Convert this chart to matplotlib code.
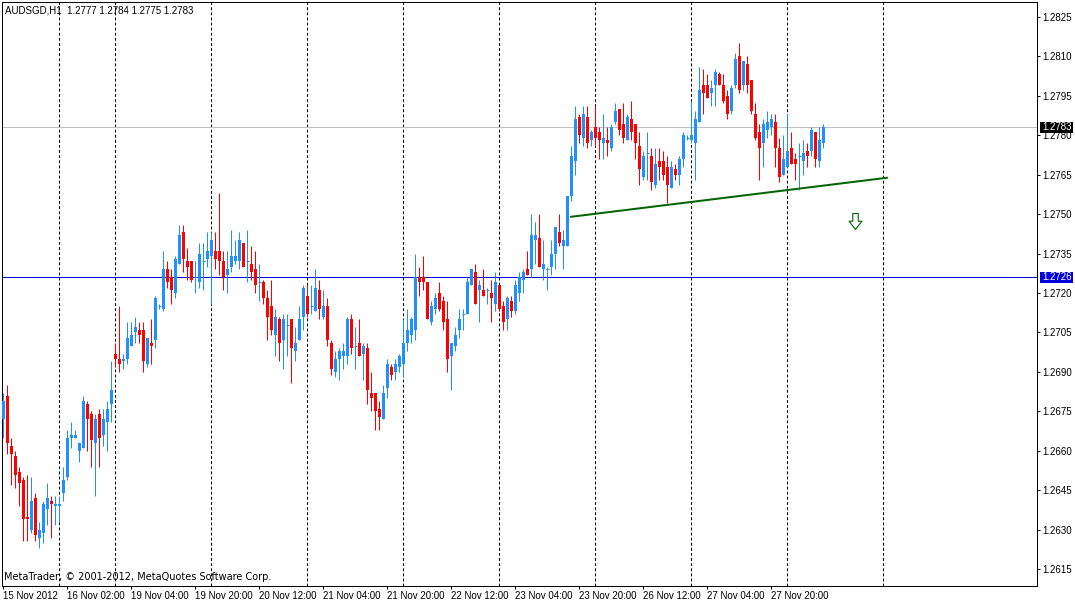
import matplotlib
matplotlib.use("Agg")
import matplotlib.pyplot as plt
from matplotlib.path import Path
from matplotlib.patches import Rectangle
import numpy as np

# AUDSGD H1 bars (bar 0 = 15 Nov 2012 10:00)
opens = [1.2672, 1.2681, 1.2662, 1.2658, 1.2652, 1.2649, 1.2635, 1.2630, 1.2642, 1.2627,
         1.2629, 1.2638, 1.2641, 1.2639, 1.2639, 1.2644, 1.2650, 1.2665, 1.2665, 1.2660,
         1.2661, 1.2678, 1.2674, 1.2663, 1.2674, 1.2666, 1.2671, 1.2678, 1.2697, 1.2695,
         1.2694, 1.2695, 1.2700, 1.2705, 1.2706, 1.2706, 1.2693, 1.2701, 1.2702, 1.2715,
         1.2714, 1.2729, 1.2726, 1.2720, 1.2731, 1.2743, 1.2732, 1.2732, 1.2726, 1.2724,
         1.2732, 1.2733, 1.2734, 1.2736, 1.2736, 1.2732, 1.2727, 1.2730, 1.2732, 1.2732,
         1.2739, 1.2732, 1.2731, 1.2729, 1.2724, 1.2724, 1.2718, 1.2715, 1.2704, 1.2710,
         1.2702, 1.2708, 1.2710, 1.2698, 1.2702, 1.2711, 1.2719, 1.2715, 1.2713, 1.2721,
         1.2711, 1.2715, 1.2701, 1.2690, 1.2695, 1.2696, 1.2696, 1.2710, 1.2700, 1.2701,
         1.2697, 1.2699, 1.2682, 1.2682, 1.2676, 1.2672, 1.2684, 1.2692, 1.2690, 1.2692,
         1.2693, 1.2701, 1.2704, 1.2706, 1.2726, 1.2726, 1.2724, 1.2709, 1.2714, 1.2720,
         1.2717, 1.2710, 1.2696, 1.2700, 1.2706, 1.2712, 1.2712, 1.2723, 1.2728, 1.2721,
         1.2721, 1.2721, 1.2720, 1.2716, 1.2723, 1.2715, 1.2710, 1.2717, 1.2713, 1.2720,
         1.2725, 1.2729, 1.2729, 1.2740, 1.2741, 1.2729, 1.2729, 1.2730, 1.2735, 1.2743,
         1.2738, 1.2738, 1.2757, 1.2770, 1.2787, 1.2779, 1.2787, 1.2778, 1.2783, 1.2781,
         1.2777, 1.2778, 1.2775, 1.2785, 1.2790, 1.2784, 1.2778, 1.2786, 1.2784, 1.2776,
         1.2764, 1.2773, 1.2772, 1.2761, 1.2770, 1.2770, 1.2768, 1.2760, 1.2767, 1.2765,
         1.2771, 1.2779, 1.2778, 1.2777, 1.2785, 1.2799, 1.2799, 1.2796, 1.2799, 1.2803,
         1.2799, 1.2795, 1.2789, 1.2799, 1.2810, 1.2799, 1.2807, 1.2801, 1.2788, 1.2781,
         1.2777, 1.2782, 1.2783, 1.2785, 1.2775, 1.2765, 1.2768, 1.2775, 1.2771, 1.2772,
         1.2770, 1.2774, 1.2774, 1.2781, 1.2770, 1.2777]
highs = [1.2682, 1.2685, 1.2665, 1.2660, 1.2654, 1.2650, 1.2651, 1.2650, 1.2644, 1.2633,
         1.2641, 1.2648, 1.2643, 1.2643, 1.2643, 1.2654, 1.2668, 1.2671, 1.2668, 1.2663,
         1.2681, 1.2679, 1.2675, 1.2674, 1.2676, 1.2676, 1.2679, 1.2694, 1.2701, 1.2715,
         1.2697, 1.2709, 1.2709, 1.2711, 1.2709, 1.2709, 1.2703, 1.2710, 1.2719, 1.2716,
         1.2736, 1.2732, 1.2729, 1.2734, 1.2746, 1.2746, 1.2737, 1.2732, 1.2732, 1.2739,
         1.2739, 1.2743, 1.2743, 1.2743, 1.2758, 1.2736, 1.2736, 1.2744, 1.2740, 1.2743,
         1.2739, 1.2744, 1.2738, 1.2736, 1.2731, 1.2725, 1.2721, 1.2725, 1.2714, 1.2711,
         1.2712, 1.2712, 1.2710, 1.2707, 1.2715, 1.2723, 1.2723, 1.2723, 1.2729, 1.2725,
         1.2721, 1.2718, 1.2702, 1.2698, 1.2699, 1.2701, 1.2711, 1.2712, 1.2707, 1.2710,
         1.2701, 1.2701, 1.2690, 1.2682, 1.2679, 1.2685, 1.2695, 1.2693, 1.2695, 1.2697,
         1.2710, 1.2714, 1.2711, 1.2735, 1.2730, 1.2734, 1.2724, 1.2717, 1.2720, 1.2724,
         1.2719, 1.2717, 1.2701, 1.2707, 1.2714, 1.2714, 1.2726, 1.2729, 1.2731, 1.2725,
         1.2729, 1.2722, 1.2725, 1.2728, 1.2723, 1.2717, 1.2719, 1.2719, 1.2725, 1.2728,
         1.2729, 1.2736, 1.2750, 1.2747, 1.2750, 1.2740, 1.2730, 1.2740, 1.2745, 1.2750,
         1.2744, 1.2757, 1.2776, 1.2791, 1.2788, 1.2791, 1.2791, 1.2782, 1.2791, 1.2783,
         1.2788, 1.2783, 1.2784, 1.2792, 1.2790, 1.2792, 1.2788, 1.2793, 1.2784, 1.2781,
         1.2774, 1.2781, 1.2775, 1.2775, 1.2775, 1.2774, 1.2772, 1.2770, 1.2769, 1.2772,
         1.2781, 1.2780, 1.2793, 1.2789, 1.2806, 1.2805, 1.2803, 1.2801, 1.2805, 1.2804,
         1.2803, 1.2797, 1.2799, 1.2811, 1.2815, 1.2808, 1.2810, 1.2801, 1.2792, 1.2784,
         1.2786, 1.2789, 1.2788, 1.2788, 1.2779, 1.2780, 1.2788, 1.2781, 1.2773, 1.2777,
         1.2778, 1.2777, 1.2783, 1.2781, 1.2783, 1.2784]
lows = [1.2665, 1.2659, 1.2647, 1.2646, 1.2639, 1.2626, 1.2626, 1.2629, 1.2626, 1.2623,
        1.2625, 1.2632, 1.2627, 1.2632, 1.2633, 1.2641, 1.2649, 1.2661, 1.2665, 1.2656,
        1.2661, 1.2660, 1.2654, 1.2643, 1.2654, 1.2662, 1.2660, 1.2671, 1.2692, 1.2690,
        1.2691, 1.2693, 1.2700, 1.2701, 1.2701, 1.2690, 1.2692, 1.2693, 1.2699, 1.2714,
        1.2713, 1.2722, 1.2716, 1.2718, 1.2731, 1.2728, 1.2725, 1.2724, 1.2720, 1.2722,
        1.2721, 1.2730, 1.2716, 1.2729, 1.2727, 1.2721, 1.2720, 1.2728, 1.2731, 1.2729,
        1.2730, 1.2724, 1.2725, 1.2720, 1.2717, 1.2716, 1.2702, 1.2704, 1.2696, 1.2694,
        1.2691, 1.2696, 1.2686, 1.2694, 1.2702, 1.2706, 1.2711, 1.2712, 1.2713, 1.2710,
        1.2710, 1.2700, 1.2689, 1.2688, 1.2687, 1.2691, 1.2693, 1.2697, 1.2691, 1.2696,
        1.2687, 1.2678, 1.2675, 1.2668, 1.2668, 1.2672, 1.2680, 1.2687, 1.2687, 1.2690,
        1.2688, 1.2698, 1.2701, 1.2702, 1.2719, 1.2721, 1.2710, 1.2708, 1.2712, 1.2713,
        1.2706, 1.2690, 1.2683, 1.2698, 1.2703, 1.2706, 1.2712, 1.2723, 1.2716, 1.2709,
        1.2719, 1.2716, 1.2709, 1.2713, 1.2713, 1.2706, 1.2706, 1.2711, 1.2712, 1.2717,
        1.2720, 1.2727, 1.2726, 1.2731, 1.2730, 1.2725, 1.2721, 1.2727, 1.2729, 1.2738,
        1.2729, 1.2738, 1.2755, 1.2765, 1.2777, 1.2776, 1.2775, 1.2776, 1.2776, 1.2771,
        1.2771, 1.2772, 1.2774, 1.2784, 1.2780, 1.2777, 1.2778, 1.2778, 1.2771, 1.2761,
        1.2763, 1.2763, 1.2759, 1.2760, 1.2763, 1.2763, 1.2754, 1.2760, 1.2763, 1.2761,
        1.2768, 1.2778, 1.2777, 1.2763, 1.2785, 1.2788, 1.2794, 1.2791, 1.2791, 1.2799,
        1.2792, 1.2786, 1.2788, 1.2798, 1.2796, 1.2797, 1.2796, 1.2788, 1.2778, 1.2763,
        1.2768, 1.2779, 1.2780, 1.2768, 1.2762, 1.2765, 1.2768, 1.2769, 1.2763, 1.2759,
        1.2765, 1.2768, 1.2772, 1.2768, 1.2768, 1.2775]
closes = [1.2679, 1.2663, 1.2659, 1.2651, 1.2648, 1.2634, 1.2634, 1.2641, 1.2628, 1.2630,
          1.2640, 1.2642, 1.2640, 1.2640, 1.2640, 1.2649, 1.2665, 1.2666, 1.2666, 1.2663,
          1.2679, 1.2672, 1.2664, 1.2672, 1.2665, 1.2672, 1.2676, 1.2683, 1.2695, 1.2693,
          1.2695, 1.2703, 1.2704, 1.2707, 1.2704, 1.2694, 1.2703, 1.2700, 1.2718, 1.2715,
          1.2729, 1.2724, 1.2721, 1.2733, 1.2742, 1.2733, 1.2730, 1.2725, 1.2726, 1.2735,
          1.2732, 1.2736, 1.2740, 1.2733, 1.2732, 1.2726, 1.2729, 1.2734, 1.2734, 1.2740,
          1.2730, 1.2732, 1.2728, 1.2723, 1.2724, 1.2718, 1.2711, 1.2706, 1.2711, 1.2701,
          1.2710, 1.2708, 1.2699, 1.2701, 1.2710, 1.2722, 1.2712, 1.2715, 1.2722, 1.2714,
          1.2715, 1.2702, 1.2691, 1.2695, 1.2698, 1.2698, 1.2710, 1.2699, 1.2700, 1.2696,
          1.2700, 1.2683, 1.2680, 1.2675, 1.2673, 1.2682, 1.2693, 1.2689, 1.2693, 1.2696,
          1.2701, 1.2706, 1.2710, 1.2726, 1.2724, 1.2724, 1.2710, 1.2715, 1.2718, 1.2714,
          1.2709, 1.2695, 1.2701, 1.2704, 1.2710, 1.2712, 1.2724, 1.2729, 1.2716, 1.2723,
          1.2719, 1.2721, 1.2718, 1.2724, 1.2714, 1.2709, 1.2718, 1.2713, 1.2723, 1.2726,
          1.2728, 1.2727, 1.2742, 1.2742, 1.2730, 1.2731, 1.2729, 1.2735, 1.2745, 1.2739,
          1.2740, 1.2757, 1.2772, 1.2786, 1.2780, 1.2788, 1.2777, 1.2781, 1.2779, 1.2778,
          1.2779, 1.2777, 1.2783, 1.2789, 1.2782, 1.2779, 1.2787, 1.2781, 1.2777, 1.2767,
          1.2772, 1.2773, 1.2762, 1.2769, 1.2768, 1.2765, 1.2761, 1.2768, 1.2765, 1.2771,
          1.2780, 1.2779, 1.2780, 1.2786, 1.2797, 1.2796, 1.2794, 1.2798, 1.2804, 1.2799,
          1.2793, 1.2788, 1.2798, 1.2809, 1.2797, 1.2808, 1.2799, 1.2789, 1.2779, 1.2775,
          1.2784, 1.2785, 1.2786, 1.2775, 1.2764, 1.2771, 1.2774, 1.2769, 1.2769, 1.2772,
          1.2773, 1.2772, 1.2782, 1.2771, 1.2778, 1.2783]

day_starts = [14, 28, 52, 76, 100, 124, 148, 172, 196, 220]
time_ticks = [0, 16, 32, 48, 64, 80, 96, 112, 128, 144, 160, 176, 192]
time_labels = ["15 Nov 2012", "16 Nov 02:00", "19 Nov 04:00", "19 Nov 20:00",
               "20 Nov 12:00", "21 Nov 04:00", "21 Nov 20:00", "22 Nov 12:00",
               "23 Nov 04:00", "23 Nov 20:00", "26 Nov 12:00", "27 Nov 04:00",
               "27 Nov 20:00"]
price_ticks = [1.2825, 1.2810, 1.2795, 1.2780, 1.2765, 1.2750, 1.2735, 1.2720,
               1.2705, 1.2690, 1.2675, 1.2660, 1.2645, 1.2630, 1.2615]

bid = 1.2783
hline_price = 1.2726
trend_x = [141.7, 221.1]
trend_y = [1.27489, 1.27638]
arrow_bar = 212.8
arrow_price = 1.27473

BULL = "#1e90ff"
BEAR = "#ff0000"
HBLUE = "#0000dc"
GREEN = "#006400"
px = 0.72  # one pixel in points at 100 dpi

plt.rcParams["font.family"] = ["Liberation Sans", "DejaVu Sans"]
fig = plt.figure(figsize=(10.75, 6.02), dpi=100)
ax = fig.add_axes([2 / 1075, 16 / 602, 1035 / 1075, 584 / 602])

o = np.array(opens)
h = np.array(highs)
l = np.array(lows)
c = np.array(closes)
x = np.arange(len(o))
cols = np.where(c >= o, BULL, BEAR)

# day separators
for d in day_starts:
    ax.axvline(d, color="black", lw=px, linestyle=(0, (2.9, 2.2)), zorder=1)

ax.axhline(bid, color="#c0c0c0", lw=px, zorder=1.5)
ax.axhline(hline_price, color=HBLUE, lw=px, zorder=1.5)

ax.vlines(x, l, h, colors=cols, lw=px, zorder=2)
body = np.abs(c - o)
ax.bar(x, body, bottom=np.minimum(o, c), width=0.75, color=cols, linewidth=0, zorder=3)
doji = body < 0.00005
ax.hlines(o[doji], x[doji] - 0.375, x[doji] + 0.375, colors=cols[doji], lw=px, zorder=3)

ax.plot(trend_x, trend_y, color=GREEN, lw=2 * px, zorder=4, solid_capstyle="butt")

arrow = Path([(-0.17, 0.5), (0.17, 0.5), (0.17, 0.02), (0.4, 0.02), (0, -0.5),
              (-0.4, 0.02), (-0.17, 0.02), (-0.17, 0.5)],
             [Path.MOVETO] + [Path.LINETO] * 6 + [Path.CLOSEPOLY])
ax.plot([arrow_bar], [arrow_price], marker=arrow, markersize=11.5,
        markerfacecolor="white", markeredgecolor=GREEN, markeredgewidth=0.8,
        linestyle="none", zorder=5)

ax.set_xlim(-0.325, 258.4)
ax.set_ylim(1.260873, 1.283051)

ax.yaxis.tick_right()
ax.set_yticks(price_ticks)
ax.set_yticklabels(["%.4f" % p for p in price_ticks])
ax.set_xticks(time_ticks)
ax.set_xticklabels(time_labels, ha="left")
ax.tick_params(axis="both", direction="out", length=3 * px, width=px,
               labelsize=7, color="black", pad=1.5)
for s in ax.spines.values():
    s.set_linewidth(px)

# price labels on the scale
tr = ax.get_yaxis_transform()
for price, face in [(bid, "black"), (hline_price, HBLUE)]:
    ax.add_patch(Rectangle((1.0029, price - 0.00021), 0.0319, 0.00042, transform=tr,
                           facecolor=face, edgecolor="none", clip_on=False, zorder=6))
    ax.text(1.0048, price, "%.4f" % price, transform=tr, color="white", fontsize=7,
            va="center", ha="left", zorder=7, clip_on=False)

ax.text(0.003, 0.985, "AUDSGD,H1  %.4f %.4f %.4f %.4f" % (o[-1], h[-1], l[-1], c[-1]),
        transform=ax.transAxes, fontsize=7, va="center", ha="left")
ax.text(0.002, 0.0155, "MetaTrader, \u00a9 2001-2012, MetaQuotes Software Corp.",
        transform=ax.transAxes, fontsize=7, va="center", ha="left",
        family=["DejaVu Sans"])

fig.savefig("out.png", dpi=100)
